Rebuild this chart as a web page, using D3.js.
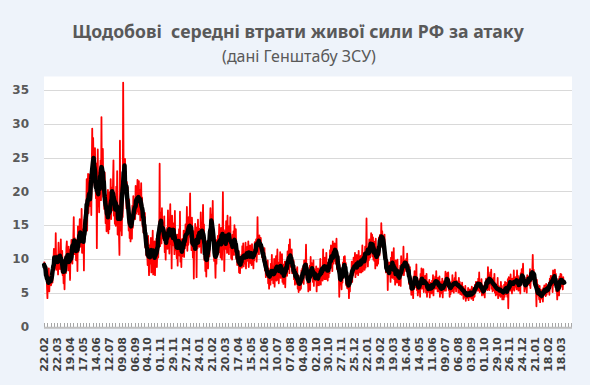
<!DOCTYPE html>
<html>
<head>
<meta charset="utf-8">
<script src="https://cdn.jsdelivr.net/npm/d3@7"></script>
<style>
  body { margin: 0; background: #eef3fa; }
  svg { display: block; }
</style>
</head>
<body>
<svg id="chart" width="590" height="385"></svg>
<script>
"use strict";

// Daily average losses per attack, starting 22.02.2023 (one row = one week)
const title = "Щодобові  середні втрати живої сили РФ за атаку";
const subtitle = "(дані Генштабу ЗСУ)";

const tickLabels = ["22.02", "22.03", "19.04", "17.05", "14.06", "12.07", "09.08", "06.09",
  "04.10", "01.11", "29.11", "27.12", "24.01", "21.02", "20.03", "17.04", "15.05", "12.06",
  "10.07", "07.08", "04.09", "02.10", "30.10", "27.11", "25.12", "22.01", "19.02", "19.03",
  "16.04", "14.05", "11.06", "09.07", "06.08", "03.09", "01.10", "29.10", "26.11", "24.12",
  "21.01", "18.02", "18.03"];
const labelStep = 28;   // days between labels
const yTicks = [0, 5, 10, 15, 20, 25, 30, 35];

const dailyLosses = [
  9.6, 9.2, 8.7, 9.0, 7.5, 8.8, 6.0,
  4.2, 7.8, 6.5, 8.6, 5.2, 7.0, 6.6,
  7.4, 6.1, 6.9, 7.8, 6.5, 8.9, 9.5,
  11.5, 8.6, 10.2, 9.1, 13.8, 8.4, 9.8,
  8.9, 10.6, 7.7, 12.4, 9.0, 10.8, 8.5,
  10.3, 12.9, 9.4, 8.0, 11.2, 7.6, 9.0,
  6.4, 9.1, 5.5, 8.8, 10.4, 7.9, 11.6,
  12.6, 9.2, 10.9, 8.3, 11.8, 9.7, 10.1,
  6.9, 11.4, 9.6, 12.8, 10.1, 9.3, 12.2,
  13.0, 16.2, 10.7, 13.1, 11.2, 12.6, 9.8,
  10.4, 12.9, 8.2, 14.8, 11.0, 12.3, 13.5,
  15.9, 11.8, 14.6, 12.0, 17.4, 10.9, 13.2,
  12.1, 14.4, 8.3, 15.8, 13.0, 17.2, 14.8,
  16.4, 21.8, 14.2, 19.5, 22.6, 16.8, 19.0,
  17.8, 22.5, 18.2, 21.0, 16.5, 23.4, 29.3,
  21.4, 27.9, 23.6, 25.2, 20.8, 26.4, 21.6,
  19.0, 24.1, 11.6, 20.5, 26.2, 17.8, 21.4,
  16.9, 22.8, 20.1, 24.6, 18.7, 31.0, 20.4,
  24.0, 26.3, 19.2, 21.5, 17.4, 22.8, 18.6,
  15.3, 19.4, 14.1, 18.0, 15.6, 20.2, 13.8,
  17.1, 14.4, 19.9, 16.0, 21.8, 15.9, 18.8,
  20.6, 17.2, 21.3, 24.6, 16.4, 19.0, 15.2,
  18.6, 14.9, 20.7, 16.3, 23.0, 13.6, 17.9,
  16.7, 13.4, 10.6, 27.5, 15.9, 14.2, 16.4,
  13.5, 18.9, 16.2, 36.1, 22.4, 19.8, 21.2,
  24.8, 19.6, 22.9, 17.5, 21.4, 18.3, 20.6,
  16.9, 14.2, 18.8, 13.1, 15.7, 12.6, 16.3,
  15.2, 13.0, 17.9, 14.6, 19.3, 15.8, 16.4,
  18.5, 15.9, 20.8, 16.7, 19.6, 17.0, 21.7,
  19.8, 16.6, 21.5, 17.3, 20.2, 15.7, 18.9,
  21.2, 17.0, 19.1, 14.8, 17.6, 13.9, 16.5,
  14.4, 16.8, 11.7, 13.9, 10.5, 12.6, 11.0,
  9.1, 13.4, 10.2, 7.6, 12.0, 9.3, 11.5,
  13.1, 8.0, 12.4, 10.6, 14.2, 7.7, 11.8,
  9.4, 12.6, 7.6, 11.9, 10.3, 13.0, 8.8,
  11.4, 12.8, 10.2, 14.6, 12.0, 24.1, 11.9,
  13.6, 16.9, 12.3, 17.5, 13.1, 15.4, 14.2,
  12.8, 16.3, 11.0, 14.1, 9.9, 13.5, 12.2,
  14.6, 11.5, 17.2, 12.4, 15.0, 10.8, 14.9,
  18.1, 12.2, 15.6, 8.6, 16.4, 13.7, 15.3,
  12.0, 14.9, 10.7, 17.1, 11.3, 13.2, 11.8,
  10.1, 13.6, 9.0, 12.8, 11.2, 14.4, 10.5,
  17.0, 9.6, 11.7, 8.8, 12.9, 10.4, 13.0,
  11.1, 14.2, 10.3, 13.8, 11.6, 15.1, 12.0,
  13.4, 17.7, 11.2, 14.5, 12.1, 16.2, 13.3,
  15.6, 19.7, 12.4, 14.9, 11.3, 16.1, 13.0,
  10.2, 14.1, 7.1, 13.7, 12.0, 15.2, 11.3,
  13.9, 7.3, 14.7, 11.6, 15.8, 12.1, 13.6,
  11.8, 14.5, 12.2, 16.9, 10.9, 13.7, 12.6,
  14.8, 18.0, 12.3, 15.1, 9.8, 11.7, 8.2,
  10.8, 7.4, 12.6, 9.5, 11.9, 8.6, 12.4,
  12.9, 10.4, 14.7, 17.5, 13.2, 16.6, 15.0,
  14.1, 18.6, 12.5, 13.6, 9.7, 11.8, 10.0,
  7.2, 11.5, 9.3, 12.8, 10.6, 13.4, 11.1,
  12.3, 15.1, 11.0, 13.8, 10.2, 14.6, 12.5,
  9.9, 13.2, 19.9, 11.4, 14.3, 8.2, 12.6,
  14.1, 11.5, 15.6, 12.8, 10.9, 16.4, 12.0,
  13.4, 10.7, 14.9, 11.8, 16.2, 12.3, 10.1,
  12.8, 9.9, 13.6, 11.4, 14.1, 10.6, 15.0,
  13.0, 11.2, 14.4, 10.0, 12.2, 9.1, 11.0,
  9.6, 11.2, 8.0, 10.3, 7.9, 9.8, 8.8,
  10.6, 8.7, 11.9, 9.2, 12.3, 8.9, 10.4,
  11.0, 9.3, 12.4, 8.6, 10.9, 9.7, 11.8,
  9.9, 12.6, 8.8, 11.3, 10.2, 12.0, 9.4,
  11.6, 9.1, 12.2, 10.0, 11.4, 8.6, 10.7,
  9.8, 12.5, 10.4, 11.6, 12.9, 9.6, 11.5,
  16.2, 11.0, 12.8, 10.7, 13.5, 11.9, 12.6,
  13.1, 11.4, 12.0, 10.2, 11.7, 9.8, 10.9,
  9.6, 11.6, 8.3, 10.1, 7.3, 8.7, 7.9,
  7.9, 9.8, 6.4, 8.6, 5.6, 7.4, 8.3,
  6.2, 9.3, 6.9, 10.6, 7.2, 8.9, 6.4,
  7.3, 10.0, 5.9, 8.6, 7.8, 10.4, 6.8,
  9.1, 11.4, 6.9, 9.5, 6.4, 8.7, 7.7,
  11.0, 7.2, 9.7, 7.6, 10.7, 6.6, 7.6,
  6.3, 9.2, 7.4, 9.6, 5.8, 8.5, 8.8,
  9.7, 7.5, 11.1, 8.5, 9.2, 12.1, 7.9,
  12.9, 9.5, 11.0, 8.8, 11.4, 7.9, 9.6,
  8.1, 9.8, 7.0, 9.0, 6.2, 8.4, 7.0,
  8.5, 6.3, 8.8, 5.6, 7.6, 5.1, 7.0,
  6.2, 5.4, 7.5, 5.6, 8.3, 6.5, 8.6,
  6.8, 8.9, 6.3, 9.8, 7.6, 9.4, 8.6,
  12.1, 7.2, 9.3, 6.4, 7.6, 5.2, 6.9,
  6.6, 9.0, 5.4, 10.3, 7.4, 9.4, 8.0,
  8.8, 6.6, 9.8, 6.0, 8.5, 6.9, 8.0,
  6.8, 8.9, 5.2, 8.2, 6.1, 8.6, 7.1,
  6.1, 8.4, 7.1, 10.0, 6.2, 8.7, 7.7,
  8.6, 6.8, 11.4, 7.7, 9.4, 7.0, 10.2,
  9.7, 7.0, 10.9, 7.8, 9.4, 6.8, 8.9,
  7.3, 9.9, 7.9, 11.3, 8.7, 12.0, 9.5,
  10.2, 8.2, 12.6, 9.3, 11.6, 9.7, 12.3,
  12.2, 9.3, 11.3, 13.0, 8.5, 10.9, 9.3,
  10.5, 8.6, 4.4, 9.1, 7.0, 8.2, 6.5,
  5.5, 7.9, 6.5, 9.5, 7.2, 10.3, 8.6,
  10.4, 8.4, 9.4, 6.1, 8.0, 5.7, 7.5,
  5.6, 7.4, 4.2, 7.0, 5.2, 7.8, 7.1,
  7.3, 9.6, 6.6, 8.8, 7.6, 10.2, 8.0,
  8.6, 10.9, 7.3, 9.8, 7.8, 10.6, 8.2,
  9.8, 7.6, 11.2, 8.4, 10.4, 8.0, 9.3,
  10.5, 8.0, 9.7, 12.0, 8.2, 10.8, 8.8,
  10.9, 8.4, 11.8, 8.7, 10.3, 16.0, 9.6,
  10.8, 8.9, 11.6, 9.8, 12.9, 12.3, 10.2,
  11.3, 13.8, 11.6, 13.6, 10.4, 13.2, 9.9,
  12.6, 9.7, 12.3, 8.6, 13.0, 9.9, 11.2,
  9.0, 11.2, 9.3, 10.9, 13.2, 10.5, 13.5,
  13.6, 11.8, 15.3, 12.2, 14.1, 12.7, 13.3,
  13.2, 10.9, 13.6, 8.9, 10.6, 8.0, 9.1,
  8.6, 9.8, 5.4, 9.1, 8.0, 9.5, 7.7,
  9.2, 6.6, 10.2, 7.8, 11.0, 7.2, 8.8,
  9.4, 11.6, 7.0, 8.6, 6.2, 9.8, 7.4,
  8.9, 6.5, 9.9, 7.1, 8.3, 6.1, 7.7,
  6.4, 9.0, 6.0, 10.4, 7.6, 8.8, 7.8,
  8.6, 11.8, 7.6, 9.8, 8.2, 9.6, 9.0,
  10.0, 8.4, 10.8, 7.9, 7.4, 9.2, 6.3,
  7.4, 8.8, 5.6, 7.0, 4.7, 6.4, 5.4,
  6.0, 4.2, 7.4, 5.6, 8.2, 6.4, 7.6,
  5.8, 9.2, 5.4, 7.2, 4.6, 6.6, 5.6,
  5.0, 7.0, 4.4, 7.8, 6.0, 8.6, 5.6,
  7.3, 5.7, 8.5, 5.1, 6.9, 6.1, 7.5,
  7.2, 5.0, 7.8, 4.4, 6.6, 5.6, 6.0,
  5.1, 6.9, 4.3, 6.5, 5.5, 6.3, 4.9,
  6.8, 5.2, 7.6, 4.6, 6.4, 5.6, 7.0,
  7.4, 5.6, 8.2, 6.0, 7.0, 5.2, 7.2,
  6.8, 5.2, 7.4, 4.4, 6.2, 5.6, 6.6,
  4.9, 7.1, 4.3, 6.7, 5.5, 6.3, 5.3,
  5.9, 8.1, 5.3, 7.5, 6.3, 7.9, 6.1,
  8.0, 5.4, 7.0, 4.4, 6.2, 4.8, 5.8,
  6.6, 5.2, 7.6, 5.6, 6.8, 5.0, 6.4,
  7.2, 5.6, 8.0, 5.2, 6.8, 5.8, 6.4,
  6.4, 5.0, 7.2, 5.4, 6.6, 4.8, 6.0,
  6.1, 4.7, 6.5, 5.1, 5.9, 4.1, 5.5,
  5.6, 4.4, 6.0, 3.8, 5.2, 4.2, 5.0,
  4.5, 5.7, 3.9, 5.3, 4.3, 5.5, 4.7,
  5.1, 4.1, 5.9, 4.3, 5.3, 3.9, 5.7,
  5.4, 4.4, 6.2, 5.0, 6.6, 5.6, 6.0,
  6.6, 5.3, 7.1, 5.7, 8.0, 5.1, 6.3,
  6.4, 5.2, 7.0, 4.6, 6.0, 5.0, 5.6,
  4.7, 6.1, 4.3, 6.5, 5.5, 7.1, 5.9,
  6.4, 5.4, 8.8, 6.0, 7.6, 5.4, 7.3,
  8.0, 6.2, 8.4, 5.6, 7.0, 5.2, 6.4,
  7.2, 5.4, 7.8, 5.0, 6.4, 4.6, 6.0,
  6.2, 4.8, 7.2, 4.2, 6.0, 4.6, 5.8,
  5.8, 4.4, 6.6, 4.8, 6.0, 4.0, 5.4,
  5.4, 4.0, 6.2, 4.4, 6.6, 4.8, 5.8,
  4.8, 6.5, 4.4, 7.0, 2.7, 7.3, 6.0,
  6.7, 5.3, 7.7, 5.7, 7.1, 4.9, 6.5,
  7.1, 5.5, 8.3, 5.3, 6.7, 5.9, 7.3,
  7.3, 5.5, 8.3, 5.9, 7.5, 5.3, 6.5,
  5.7, 7.1, 4.9, 7.9, 6.3, 8.5, 6.9,
  7.6, 9.3, 6.2, 7.3, 5.2, 6.6, 5.8,
  5.6, 7.2, 5.0, 7.6, 6.2, 7.4, 6.4,
  7.3, 6.1, 8.5, 5.7, 7.9, 6.7, 7.5,
  8.0, 10.6, 7.0, 8.4, 6.2, 7.6, 6.6,
  7.2, 5.8, 3.0, 6.9, 4.6, 6.2, 5.0,
  5.2, 4.0, 6.0, 3.6, 5.4, 4.4, 5.0,
  4.1, 5.5, 3.7, 5.7, 4.7, 6.1, 5.1,
  5.5, 4.5, 6.3, 4.7, 5.9, 5.1, 5.7,
  5.3, 6.5, 4.7, 7.1, 5.7, 7.5, 6.3,
  6.3, 7.5, 5.1, 8.3, 6.1, 7.9, 6.9,
  8.4, 6.6, 7.8, 5.2, 6.2, 4.0, 5.4,
  5.8, 7.0, 4.6, 7.4, 5.6, 7.8, 6.6,
  7.7, 5.9, 7.1, 5.5, 7.3, 6.3, 6.9
];

const svg = d3.select("#chart");

const plotLeft = 44, plotRight = 572, plotTop = 76.5, plotBottom = 327;
const totalDays = 1143;

const x = d3.scaleLinear().domain([0, totalDays]).range([44.2, plotRight]);
const y = d3.scaleLinear().domain([0, 37]).range([326.5, plotTop]);

// background
svg.append("rect").attr("width", 590).attr("height", 385).attr("fill", "#eef3fa");
svg.append("rect")
  .attr("x", plotLeft).attr("y", plotTop)
  .attr("width", plotRight - plotLeft).attr("height", plotBottom - plotTop)
  .attr("fill", "#ffffff");

// titles
function fitWidth(sel, target) {
  let w = sel.node().getComputedTextLength();
  let fs = parseFloat(sel.attr("font-size"));
  sel.attr("font-size", fs * target / w);
}

let titleText = svg.append("text")
  .attr("x", 298).attr("y", 38)
  .attr("text-anchor", "middle")
  .attr("font-family", "'Noto Sans', 'Open Sans', sans-serif")
  .attr("font-weight", "bold")
  .attr("font-size", 20)
  .attr("fill", "#595959")
  .style("white-space", "pre")
  .text(title);
fitWidth(titleText, 452);

let subText = svg.append("text")
  .attr("x", 299).attr("y", 62)
  .attr("text-anchor", "middle")
  .attr("font-family", "'Noto Sans', 'Open Sans', sans-serif")
  .attr("font-size", 14)
  .attr("fill", "#595959")
  .text(subtitle);
fitWidth(subText, 154);

// gridlines
svg.append("g")
  .selectAll("line")
  .data(yTicks.filter(d => d > 0))
  .join("line")
  .attr("x1", plotLeft).attr("x2", plotRight)
  .attr("y1", d => Math.round(y(d)) + 0.5)
  .attr("y2", d => Math.round(y(d)) + 0.5)
  .attr("stroke", "#d9d9d9")
  .attr("stroke-width", 1.2);

// y labels
svg.append("g")
  .selectAll("text")
  .data(yTicks)
  .join("text")
  .attr("x", 29)
  .attr("y", d => y(d))
  .attr("dy", "0.36em")
  .attr("text-anchor", "end")
  .attr("font-family", "'DejaVu Sans', sans-serif")
  .attr("font-weight", "bold")
  .attr("font-size", 12)
  .attr("fill", "#595959")
  .text(d => d);

// x axis: weekly tick marks, labels every 4 weeks
let weekTicks = d3.range(0, totalDays, 7);
svg.append("g")
  .selectAll("line")
  .data(weekTicks)
  .join("line")
  .attr("x1", d => Math.round(x(d)) + 0.5)
  .attr("x2", d => Math.round(x(d)) + 0.5)
  .attr("y1", plotBottom - 4)
  .attr("y2", plotBottom)
  .attr("stroke", "#a6a6a6")
  .attr("stroke-width", 1);

svg.append("line")
  .attr("x1", plotLeft).attr("x2", plotRight)
  .attr("y1", plotBottom + 0.8).attr("y2", plotBottom + 0.8)
  .attr("stroke", "#bfbfbf")
  .attr("stroke-width", 2);

svg.append("g")
  .selectAll("text")
  .data(tickLabels)
  .join("text")
  .attr("transform", (d, i) => `translate(${x(i * labelStep) + 3.8},${337}) rotate(-90)`)
  .attr("text-anchor", "end")
  .attr("font-family", "'DejaVu Sans', sans-serif")
  .attr("font-weight", "bold")
  .attr("font-size", 11)
  .attr("fill", "#404040")
  .text(d => d);

// series
let daily = dailyLosses.map((v, i) => ({day: i, value: v}));
let half = 3;
let average = daily.map((d, i) => {
  let win = dailyLosses.slice(Math.max(0, i - half), Math.min(dailyLosses.length, i + half + 1));
  return {day: d.day, value: d3.mean(win)};
});

let line = d3.line()
  .x(d => x(d.day))
  .y(d => y(d.value));

svg.append("path")
  .datum(daily)
  .attr("fill", "none")
  .attr("stroke", "#ff0000")
  .attr("stroke-width", 1.8)
  .attr("stroke-linejoin", "round")
  .attr("d", line);

svg.append("path")
  .datum(average)
  .attr("fill", "none")
  .attr("stroke", "#000000")
  .attr("stroke-width", 4.5)
  .attr("stroke-linejoin", "round")
  .attr("stroke-linecap", "round")
  .attr("d", line);
</script>
</body>
</html>
